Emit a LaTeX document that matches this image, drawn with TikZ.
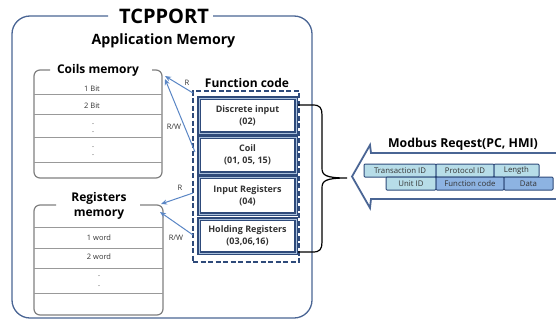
\documentclass[tikz,border=0pt]{standalone}
\usepackage{fontspec}
\setmainfont{Open Sans}
\usetikzlibrary{arrows.meta}
\definecolor{outerc}{HTML}{4A6594}
\definecolor{navyc}{HTML}{2E4A7A}
\definecolor{innerc}{HTML}{A9C0DC}
\definecolor{arrc}{HTML}{5A86C5}
\definecolor{memc}{HTML}{7F7F7F}
\definecolor{rowc}{HTML}{999999}
\definecolor{lightf}{HTML}{B7DDE8}
\definecolor{medf}{HTML}{8DB3E2}
\definecolor{txtc}{HTML}{333333}
\tikzset{
  outerbox/.style={draw=outerc, line width=1.3pt},
  memline/.style={draw=memc, line width=1.2pt, rounded corners=6pt},
  memrow/.style={draw=rowc, line width=0.8pt},
  bigtitle/.style={font=\fontsize{20}{22}\selectfont\bfseries, text=black, inner sep=0pt},
  subtitle/.style={font=\fontsize{14.2}{16}\selectfont\bfseries, text=black, inner sep=0pt},
  memtitle/.style={font=\fontsize{12}{15}\selectfont\bfseries, text=black, align=center, inner sep=0pt},
  rowtext/.style={font=\fontsize{7.5}{8}\selectfont, text=txtc, inner sep=0pt},
  dotmark/.style={font=\fontsize{7.5}{8}\selectfont, text=txtc, inner sep=0pt, anchor=base},
  dashbox/.style={draw=navyc, line width=1.8pt, dash pattern=on 5pt off 2.5pt, minimum width=106pt, minimum height=171pt, inner sep=0pt},
  fcbox/.style={draw=navyc, line width=1.5pt, double=innerc, double distance=0.4pt, minimum width=97pt, inner sep=0pt, align=center, text=txtc, font=\fontsize{9}{12}\selectfont\bfseries},
  arr/.style={draw=arrc, line width=1pt, -{Stealth[length=6pt,width=5pt]}},
  rwlabel/.style={font=\fontsize{7.5}{8}\selectfont, text=txtc, inner sep=0pt},
  bracec/.style={draw=black, line width=1.2pt},
  bigarrow/.style={draw=outerc, line width=1.8pt, line join=miter},
  field/.style={draw=navyc, line width=1pt, rounded corners=1pt, minimum height=13pt, inner sep=0pt, text=txtc, font=\fontsize{7.8}{8}\selectfont},
}
\begin{document}
\begin{tikzpicture}[x=1pt,y=-1pt]
\useasboundingbox (0,0) rectangle (556,321);

% outer TCPPORT box
\draw[outerbox, rounded corners=18pt] (108,16) -- (12,16) -- (12,318) -- (312,318) -- (312,16) -- (213,16);
\node[bigtitle] (tcp) at (164,16) {TCPPORT};
\node[subtitle] (app) at (163.5,41) {Application Memory};

% Coils memory
\draw[memline] (50,70) -- (34,70) -- (34,178) -- (162,178) -- (162,70) -- (152,70);
\foreach \yy in {94,114,137,162} \draw[memrow] (34,\yy) -- (162,\yy);
\node[memtitle] (coilt) at (98,70) {Coils memory};
\node[rowtext] (c1) at (92,89) {1 Bit};
\node[rowtext] (c2) at (92,106) {2 Bit};
\node[dotmark] (cd1) at (93,124) {.};
\node[dotmark] (cd2) at (93,132) {.};
\node[dotmark] (cd3) at (93,147) {.};
\node[dotmark] (cd4) at (93,155) {.};

% Registers memory
\draw[memline] (56,205) -- (34,205) -- (34,315) -- (163,315) -- (163,205) -- (140,205);
\foreach \yy in {227,248,268,293} \draw[memrow] (34,\yy) -- (163,\yy);
\node[memtitle] (regt) at (99,205.5) {Registers\\memory};
\node[rowtext] (r1) at (99,238) {1 word};
\node[rowtext] (r2) at (99,257) {2 word};
\node[dotmark] (rd1) at (99,276) {.};
\node[dotmark] (rd2) at (99,286) {.};

% Function code
\node[memtitle] (fct) at (247,83) {Function code};
\node[dashbox] (fcb) at (246,176.5) {};
\node[fcbox, minimum height=35pt] (b1) at (247.5,115.5) {Discrete input\\(02)};
\node[fcbox, minimum height=36pt] (b2) at (247.5,155) {Coil\\(01, 05, 15)};
\node[fcbox, minimum height=37pt] (b3) at (247.5,195.5) {Input Registers\\(04)};
\node[fcbox, minimum height=34pt] (b4) at (247.5,236) {Holding Registers\\(03,06,16)};

% arrows to memories
\coordinate (s1) at (193,93);
\coordinate (e1) at (165,76);
\coordinate (s2) at (195,152);
\coordinate (e2) at (165,79);
\coordinate (s3) at (193,193);
\coordinate (e3) at (161,204);
\coordinate (s4) at (193,235);
\coordinate (e4) at (160,212);
\draw[arr] (s1) -- (e1);
\draw[arr] (s2) -- (e2);
\draw[arr] (s3) -- (e3);
\draw[arr] (s4) -- (e4);
\node[rwlabel] (l1) at (187,83) {R};
\node[rwlabel] (l2) at (174,127) {R/W};
\node[rwlabel] (l3) at (180,188) {R};
\node[rwlabel] (l4) at (176,238) {R/W};

% brace
\coordinate (bt) at (298,105);
\coordinate (bb) at (298,252);
\coordinate (btip) at (347,178);
\draw[bracec] (bt) -- (313,105) .. controls (320,105) and (322,108) .. (322,115) -- (322,168)
  .. controls (322,175) and (325,178) .. (btip)
  .. controls (325,178) and (322,181) .. (322,188) -- (322,242)
  .. controls (322,249) and (320,252) .. (313,252) -- (bb);

% big Modbus arrow
\draw[bigarrow] (557,153) -- (371,153) -- (370,145) -- (352,176.5) -- (370,208) -- (371,199) -- (557,199);
\node[memtitle, font=\fontsize{12.3}{14}\selectfont\bfseries] (mb) at (463,144) {Modbus Reqest(PC, HMI)};

% fields
\node[field, fill=lightf, minimum width=72pt] (f1) at (400,170.5) {Transaction ID};
\node[field, fill=lightf, minimum width=58pt] (f2) at (465,170.5) {Protocol ID};
\node[field, fill=lightf, minimum width=45pt] (f3) at (516.5,170.5) {Length};
\node[field, fill=lightf, minimum width=50pt] (f4) at (411,183.5) {Unit ID};
\node[field, fill=medf, minimum width=68pt] (f5) at (470,183.5) {Function code};
\node[field, fill=medf, minimum width=49pt] (f6) at (528.5,183.5) {Data};
\end{tikzpicture}
\end{document}
